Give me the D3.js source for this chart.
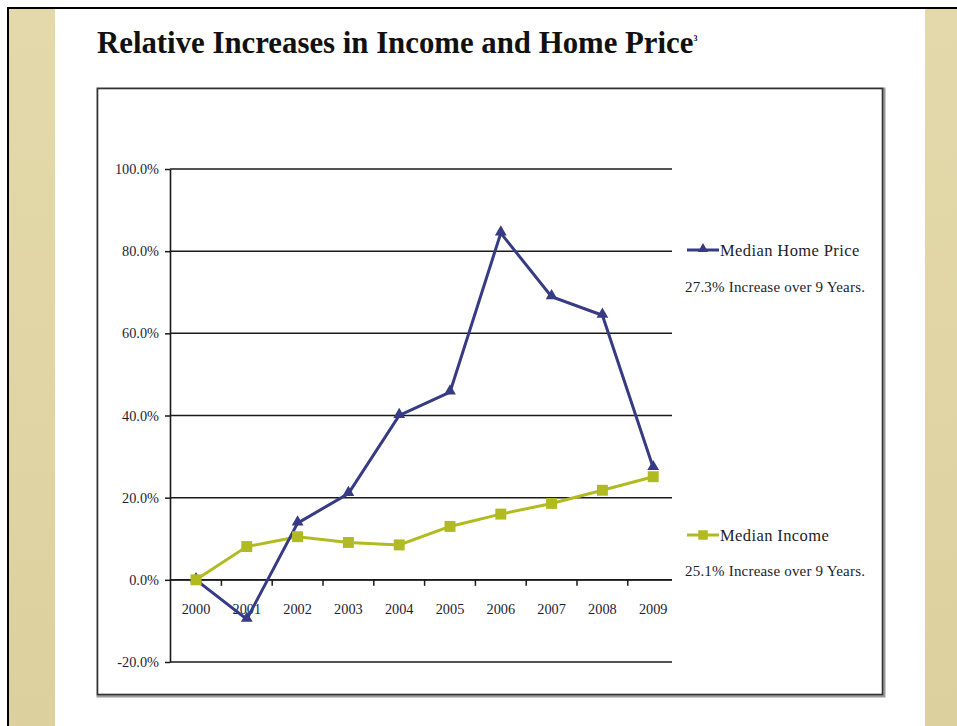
<!DOCTYPE html>
<html>
<head>
<meta charset="utf-8">
<script src="https://cdn.jsdelivr.net/npm/d3@7"></script>
<style>
  body { margin: 0; background: #fff; }
  svg { display: block; }
  text { font-family: "Liberation Serif", "Times New Roman", serif; fill: #1d1d2b; }
</style>
</head>
<body>
<div id="chart"></div>
<script>
// data
var years = ["2000", "2001", "2002", "2003", "2004", "2005", "2006", "2007", "2008", "2009"];
var homePrice = [0, -9.6, 13.8, 21.0, 40.0, 45.7, 84.4, 68.9, 64.4, 27.3];
var income = [0, 8.1, 10.5, 9.1, 8.5, 13.0, 16.0, 18.6, 21.8, 25.1];
var yTicks = [-20, 0, 20, 40, 60, 80, 100];
var seriesNames = ["Median Home Price", "Median Income"];
var seriesNotes = ["27.3% Increase over 9 Years.", "25.1% Increase over 9 Years."];

var W = 957, H = 726;
var blue = "#363b83", green = "#b1bb1f";

var svg = d3.select("#chart").append("svg")
    .attr("width", W)
    .attr("height", H);

// page background: frame + parchment strips
svg.append("rect").attr("x", 0).attr("y", 0).attr("width", W).attr("height", H).attr("fill", "#fff");
var defs = svg.append("defs");
var grad = defs.append("linearGradient").attr("id", "parch").attr("x1", 0).attr("y1", 0).attr("x2", 0).attr("y2", 1);
grad.append("stop").attr("offset", "0%").attr("stop-color", "#e4d9ab");
grad.append("stop").attr("offset", "50%").attr("stop-color", "#e1d5a5");
grad.append("stop").attr("offset", "100%").attr("stop-color", "#ddd09f");
svg.append("rect").attr("x", 9).attr("y", 9).attr("width", 46).attr("height", H - 9).attr("fill", "url(#parch)");
svg.append("rect").attr("x", 925).attr("y", 9).attr("width", 32).attr("height", H - 9).attr("fill", "url(#parch)");
svg.append("line").attr("x1", 7).attr("x2", W).attr("y1", 8).attr("y2", 8).attr("stroke", "#000").attr("stroke-width", 2);
svg.append("line").attr("x1", 8).attr("x2", 8).attr("y1", 7).attr("y2", H).attr("stroke", "#000").attr("stroke-width", 2);

// title
var title = svg.append("text")
    .attr("x", 97)
    .attr("y", 53)
    .attr("font-size", 30.8)
    .attr("font-weight", "bold")
    .style("fill", "#111")
    .text("Relative Increases in Income and Home Price");
title.append("tspan")
    .attr("font-size", 8)
    .attr("dy", -12)
    .text("3");

// chart box
svg.append("rect")
    .attr("x", 98).attr("y", 89)
    .attr("width", 786).attr("height", 607)
    .attr("fill", "none")
    .attr("stroke", "#9a9a9a").attr("stroke-width", 3);
svg.append("rect")
    .attr("x", 97.5).attr("y", 88.5)
    .attr("width", 785).attr("height", 606)
    .attr("fill", "#fff")
    .attr("stroke", "#333").attr("stroke-width", 1.6);

// scales
var x = d3.scaleBand().domain(years).range([170.6, 678.6]).paddingInner(0).paddingOuter(0);
var y = d3.scaleLinear().domain([-20, 100]).range([662, 169]);
var plotRight = 672;
var cx = function(d, i) { return x(years[i]) + x.bandwidth() / 2; };

var g = svg.append("g");

// gridlines
g.append("g").selectAll("line")
    .data(yTicks)
    .join("line")
    .attr("x1", 170).attr("x2", plotRight)
    .attr("y1", d => y(d)).attr("y2", d => y(d))
    .attr("stroke", "#1a1a1a").attr("stroke-width", 1.5);

// y axis
var yAxis = d3.axisLeft(y)
    .tickValues(yTicks)
    .tickSize(5)
    .tickSizeOuter(0)
    .tickPadding(6)
    .tickFormat(d => d3.format(".1f")(d).replace("\u2212", "-") + "%");
var yg = g.append("g").attr("transform", "translate(170,0)").call(yAxis);
yg.select(".domain").attr("stroke", "#1a1a1a").attr("stroke-width", 1.6);
yg.selectAll(".tick line").attr("stroke", "#1a1a1a").attr("stroke-width", 1.5);
yg.selectAll(".tick text")
    .attr("font-family", "Liberation Serif, serif")
    .attr("font-size", 14.3)
    .style("fill", "#1d1d35");

// x axis at 0
var xAxis = d3.axisBottom(x).tickSize(0).tickPadding(24);
var xg = g.append("g").attr("transform", "translate(0," + y(0) + ")").call(xAxis);
xg.select(".domain").remove();
xg.selectAll(".tick text")
    .attr("font-family", "Liberation Serif, serif")
    .attr("font-size", 14.3)
    .style("fill", "#1d1d35");
g.append("line")
    .attr("x1", 170).attr("x2", plotRight)
    .attr("y1", y(0)).attr("y2", y(0))
    .attr("stroke", "#1a1a1a").attr("stroke-width", 1.6);
g.append("g").selectAll("line")
    .data(years.slice(1))
    .join("line")
    .attr("x1", d => x(d)).attr("x2", d => x(d))
    .attr("y1", y(0)).attr("y2", y(0) + 6)
    .attr("stroke", "#1a1a1a").attr("stroke-width", 1.5);

// lines
var line = d3.line()
    .x((d, i) => cx(d, i))
    .y(d => y(d));

g.append("path")
    .datum(income)
    .attr("d", line)
    .attr("fill", "none")
    .attr("stroke", green).attr("stroke-width", 3);

g.append("path")
    .datum(homePrice)
    .attr("d", line)
    .attr("fill", "none")
    .attr("stroke", blue).attr("stroke-width", 3);

var tri = d3.symbol().type(d3.symbolTriangle).size(60);
var sq = d3.symbol().type(d3.symbolSquare).size(120);

g.append("g").selectAll("path")
    .data(homePrice)
    .join("path")
    .attr("d", tri)
    .attr("transform", (d, i) => "translate(" + cx(d, i) + "," + (y(d) - 1) + ")")
    .attr("fill", blue);

g.append("g").selectAll("path")
    .data(income)
    .join("path")
    .attr("d", sq)
    .attr("transform", (d, i) => "translate(" + cx(d, i) + "," + y(d) + ")")
    .attr("fill", green);

// legend
var legendY = [250, 535];
var noteY = [292, 576];
var lg = svg.append("g");
[0, 1].forEach(function(k) {
    var col = k === 0 ? blue : green;
    lg.append("line")
        .attr("x1", 687).attr("x2", 719)
        .attr("y1", legendY[k]).attr("y2", legendY[k])
        .attr("stroke", col).attr("stroke-width", 3);
    lg.append("path")
        .attr("d", k === 0 ? d3.symbol().type(d3.symbolTriangle).size(45)() : d3.symbol().type(d3.symbolSquare).size(90)())
        .attr("transform", "translate(703," + (legendY[k] - (k === 0 ? 1 : 0)) + ")")
        .attr("fill", col);
    lg.append("text")
        .attr("x", 720).attr("y", legendY[k] + 6)
        .attr("font-size", 16.5)
        .attr("letter-spacing", 0.4)
        .text(seriesNames[k]);
    lg.append("text")
        .attr("x", 685).attr("y", noteY[k])
        .attr("font-size", 15)
        .attr("letter-spacing", 0.2)
        .text(seriesNotes[k]);
});
</script>
</body>
</html>
